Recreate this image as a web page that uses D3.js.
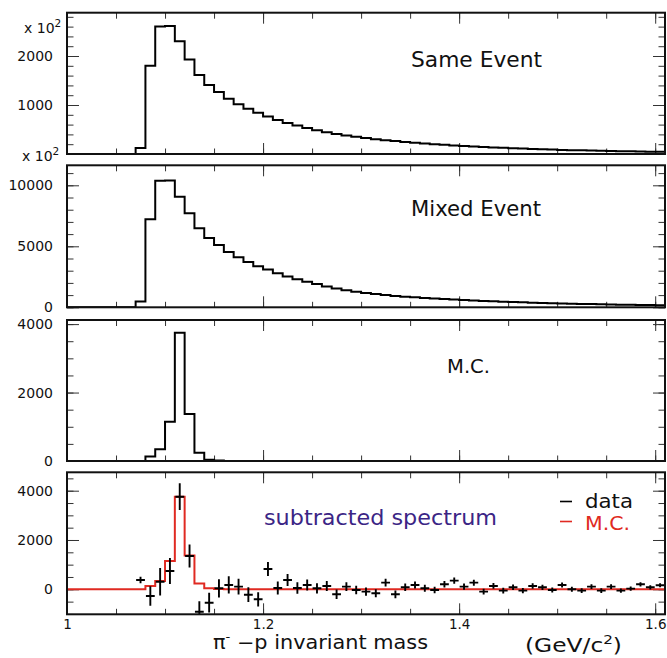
<!DOCTYPE html>
<html><head><meta charset="utf-8">
<script src="https://cdn.jsdelivr.net/npm/d3@7"></script>
<style>body{margin:0;background:#fff}svg{display:block}</style>
</head><body>
<script>
// ---------- data ----------
const binLow = [1.07,1.08,1.09,1.10,1.11,1.12,1.13,1.14,1.15,1.16,1.17,1.18,1.19,1.20,1.21,1.22,1.23,1.24,1.25,1.26,
  1.27,1.28,1.29,1.30,1.31,1.32,1.33,1.34,1.35,1.36,1.37,1.38,1.39,1.40,1.41,1.42,1.43,1.44,1.45,1.46,
  1.47,1.48,1.49,1.50,1.51,1.52,1.53,1.54,1.55,1.56,1.57,1.58,1.59,1.60];
const binWidth = 0.01;
const sameEvent = [120,1800,2600,2610,2300,1930,1610,1410,1265,1130,1015,925,840,765,695,635,580,530,485,445,
  410,378,350,325,302,282,263,246,230,215,201,188,176,165,154,144,135,126,118,110,
  103,96,90,84,79,74,69,65,61,57,54,51,48,45];
const mixedEvent = [470,7220,10370,10400,9070,7710,6490,5680,5100,4540,4110,3710,3375,3090,2800,2520,2300,2100,1900,1700,
  1540,1400,1280,1175,1085,1005,935,870,815,765,720,675,635,595,560,525,492,462,433,406,
  380,357,335,315,296,278,261,245,230,216,203,191,180,170];
const mcValues = [0,130,340,1150,3750,1370,240,40,15,0,0,0,0,0,0,0,0,0,0,0,
  0,0,0,0,0,0,0,0,0,0,0,0,0,0,0,0,0,0,0,0,
  0,0,0,0,0,0,0,0,0,0,0,0,0,0];
const dataCenters = [1.075,1.085,1.095,1.105,1.115,1.125,1.135,1.145,1.155,1.165,1.175,1.185,1.195,1.205,1.215,1.225,1.235,1.245,1.255,1.265,
  1.275,1.285,1.295,1.305,1.315,1.325,1.335,1.345,1.355,1.365,1.375,1.385,1.395,1.405,1.415,1.425,1.435,1.445,1.455,1.465,
  1.475,1.485,1.495,1.505,1.515,1.525,1.535,1.545,1.555,1.565,1.575,1.585,1.595,1.605];
const dataValues = [377,-272,308,742,3757,1350,-908,-543,40,175,107,-218,-405,823,53,377,53,175,40,135,
  -203,108,-27,-95,-162,270,-203,81,176,41,-27,203,352,108,270,-95,135,-54,81,-54,
  135,81,-27,176,0,-54,108,-54,108,-54,27,203,81,162];
const dataErrors = [130,400,560,530,540,470,420,400,370,350,320,300,290,280,260,240,230,220,210,200,
  190,180,175,170,165,160,155,150,145,140,135,130,128,125,122,120,117,115,112,110,
  108,106,104,102,100,98,96,94,92,90,88,86,84,82];
const xMajorTicks = [1.0,1.2,1.4,1.6];
const xTickLabels = ["1","1.2","1.4","1.6"];
const panelTitles = ["Same Event","Mixed Event","M.C.","subtracted spectrum"];
const legendLabels = ["data","M.C."];

// ---------- layout ----------
const W = 667, H = 658;
const left = 67, right = 665;
const xMin = 1.0, xMax = 1.61;
const panels = [
  {top:12.7, bottom:154,   domain:[0,2884],     major:[0,1000,2000], minorStep:200, labels:[1000,2000]},
  {top:165.3, bottom:307.3, domain:[0,11640],   major:[0,5000,10000], minorStep:1000, labels:[0,5000,10000]},
  {top:320,  bottom:461,   domain:[0,4120],     major:[0,2000,4000], minorStep:500, labels:[0,2000,4000]},
  {top:472.3, bottom:614.3, domain:[-1014,4746], major:[0,2000,4000], minorStep:500, labels:[0,2000,4000]}
];
const RED = "#e02a22";
const FONT = "DejaVu Sans, Liberation Sans, sans-serif";

const svg = d3.select("body").append("svg").attr("width",W).attr("height",H)
  .attr("font-family",FONT);

const x = d3.scaleLinear().domain([xMin,xMax]).range([left,right]);
const xMinor = d3.range(1.0, 1.6101, 0.05).map(v=>+v.toFixed(3));

function stepPoints(vals){
  const pts = [[xMin,0]];
  binLow.forEach((b,i)=>pts.push([b, vals[i]]));
  pts.push([xMax, vals[vals.length-1]]);
  return pts;
}

panels.forEach((p,pi)=>{
  const y = d3.scaleLinear().domain(p.domain).range([p.bottom,p.top]);
  p.y = y;
  const g = svg.append("g");
  const clipId = "clip"+pi;
  svg.append("clipPath").attr("id",clipId).append("rect")
    .attr("x",left).attr("y",p.top).attr("width",right-left).attr("height",p.bottom-p.top);

  const yMinor = d3.range(Math.ceil(p.domain[0]/p.minorStep)*p.minorStep, p.domain[1]+1, p.minorStep);

  const xb = g.append("g").attr("transform",`translate(0,${p.bottom})`);
  xb.append("g").call(d3.axisBottom(x).tickValues(xMinor).tickSize(-5.5).tickFormat(""));
  xb.append("g").call(d3.axisBottom(x).tickValues(xMajorTicks).tickSize(-11).tickFormat(""));
  const xt = g.append("g").attr("transform",`translate(0,${p.top})`);
  xt.append("g").call(d3.axisTop(x).tickValues(xMinor).tickSize(-6).tickFormat(""));
  xt.append("g").call(d3.axisTop(x).tickValues(xMajorTicks).tickSize(-11).tickFormat(""));
  const yl = g.append("g").attr("transform",`translate(${left},0)`);
  yl.append("g").call(d3.axisLeft(y).tickValues(yMinor).tickSize(-6.5).tickFormat(""));
  yl.append("g").call(d3.axisLeft(y).tickValues(p.major).tickSize(-12).tickFormat(""));
  yl.append("g").call(d3.axisLeft(y).tickValues(p.labels).tickSize(0).tickPadding(14).tickFormat(d3.format("d")))
    .selectAll("text").attr("font-size",14).attr("font-family",FONT).attr("fill","#111");
  const yr = g.append("g").attr("transform",`translate(${right},0)`);
  yr.append("g").call(d3.axisRight(y).tickValues(yMinor).tickSize(-6.5).tickFormat(""));
  yr.append("g").call(d3.axisRight(y).tickValues(p.major).tickSize(-12).tickFormat(""));

  g.selectAll(".domain").remove();
  g.selectAll(".tick line").attr("stroke","#333").attr("stroke-width",1);

  const plot = svg.append("g").attr("clip-path",`url(#${clipId})`);
  const line = d3.line().x(d=>x(d[0])).y(d=>y(d[1])).curve(d3.curveStepAfter);

  if(pi===0) plot.append("path").attr("d",line(stepPoints(sameEvent))).attr("fill","none").attr("stroke","#000").attr("stroke-width",2);
  if(pi===1) plot.append("path").attr("d",line(stepPoints(mixedEvent))).attr("fill","none").attr("stroke","#000").attr("stroke-width",2);
  if(pi===2) plot.append("path").attr("d",line(stepPoints(mcValues))).attr("fill","none").attr("stroke","#000").attr("stroke-width",2);
  if(pi===3){
    plot.append("path").attr("d",line(stepPoints(mcValues))).attr("fill","none").attr("stroke",RED).attr("stroke-width",2);
    const cr = plot.append("g").attr("stroke","#000").attr("stroke-width",1.9);
    dataCenters.forEach((c,i)=>{
      cr.append("line").attr("x1",x(c-binWidth/2)+0.5).attr("x2",x(c+binWidth/2)-0.5)
        .attr("y1",y(dataValues[i])).attr("y2",y(dataValues[i]));
      cr.append("line").attr("x1",x(c)).attr("x2",x(c))
        .attr("y1",y(dataValues[i]-dataErrors[i])).attr("y2",y(dataValues[i]+dataErrors[i]));
    });
  }

  svg.append("rect").attr("x",left).attr("y",p.top).attr("width",right-left).attr("height",p.bottom-p.top)
    .attr("fill","none").attr("stroke","#111").attr("stroke-width",2);
});

// x tick labels on bottom panel
const pb = panels[3];
const xl = svg.append("g").attr("transform",`translate(0,${pb.bottom})`)
  .call(d3.axisBottom(x).tickValues(xMajorTicks).tickSize(0).tickPadding(5)
    .tickFormat((d,i)=>xTickLabels[i]));
xl.select(".domain").remove();
xl.selectAll("text").attr("font-size",13.5).attr("font-family",FONT).attr("fill","#111")
  .attr("text-anchor",(d,i)=> i===xTickLabels.length-1 ? "end" : "middle")
  .attr("dx",(d,i)=> i===xTickLabels.length-1 ? (W-1-x(d)) : 0);

// x10^2 exponent labels
function expLabel(xp, yp){
  const t = svg.append("text").attr("x",xp).attr("y",yp).attr("font-size",14).attr("fill","#111");
  t.append("tspan").text("x 10");
  t.append("tspan").attr("dy",-6).attr("font-size",10.5).text("2");
}
expLabel(24, 33);
expLabel(22, 161);

function title(txt, xp, yp, size, len, color){
  svg.append("text").attr("x",xp).attr("y",yp).attr("font-size",size).attr("fill",color||"#111")
    .attr("textLength",len).attr("lengthAdjust","spacingAndGlyphs").text(txt);
}
title(panelTitles[0], 411, 67, 21, 131);
title(panelTitles[1], 411, 216, 21, 130);
title(panelTitles[2], 447, 373, 20, 43);
title(panelTitles[3], 264, 525, 21, 233, "#3b2585");

// legend
svg.append("line").attr("x1",560).attr("x2",572).attr("y1",501.5).attr("y2",501.5).attr("stroke","#000").attr("stroke-width",1.6);
svg.append("line").attr("x1",560).attr("x2",572).attr("y1",521.5).attr("y2",521.5).attr("stroke",RED).attr("stroke-width",1.6);
title(legendLabels[0], 585, 508, 20, 48);
title(legendLabels[1], 585, 530, 20, 45, RED);

// axis titles
const at = svg.append("text").attr("x",213).attr("y",649).attr("font-size",19).attr("fill","#111")
  .attr("textLength",215).attr("lengthAdjust","spacingAndGlyphs");
at.append("tspan").text("π");
at.append("tspan").attr("dy",-8).attr("font-size",12).text("-");
at.append("tspan").attr("dy",8).text(" −p invariant mass");
const gv = svg.append("text").attr("x",525).attr("y",652).attr("font-size",20).attr("fill","#111")
  .attr("textLength",97).attr("lengthAdjust","spacingAndGlyphs");
gv.append("tspan").text("(GeV/c");
gv.append("tspan").attr("dy",-8).attr("font-size",13).text("2");
gv.append("tspan").attr("dy",8).text(")");
</script>
</body></html>
